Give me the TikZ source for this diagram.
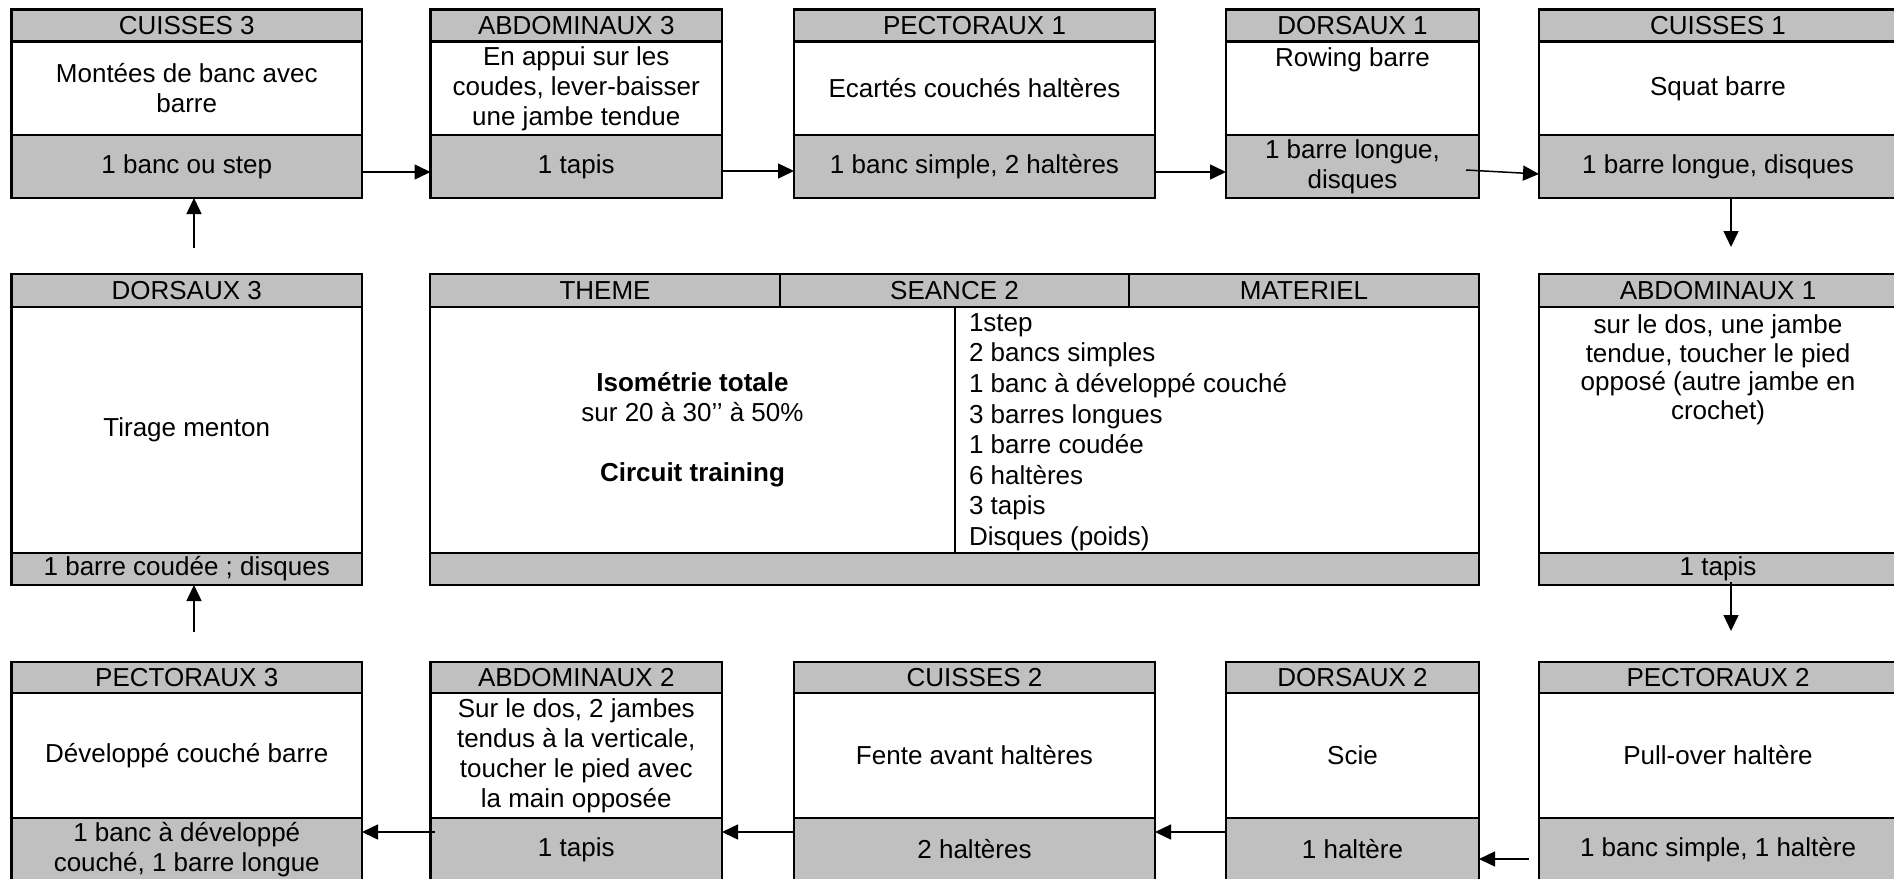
\documentclass[tikz,border=0pt]{standalone}
\usepackage{fontspec}
\setmainfont{Liberation Sans}
\usetikzlibrary{arrows.meta}
\definecolor{cellgray}{RGB}{192,192,192}
\tikzset{
  cell/.style={draw=black, line width=2.5pt, rectangle, inner sep=0pt, outer sep=0pt, anchor=north west, align=center},
  hdr/.style={cell, fill=cellgray},
  bdy/.style={cell, fill=white},
  ftr/.style={cell, fill=cellgray},
  txt/.style={inner sep=0pt, outer sep=0pt, align=center},
  arr/.style={line width=1.5pt, -{Triangle[length=16pt,width=15pt]}}
}
% #1 name, #2 x, #3 width, #4 header, #5 body, #6 footer ; row values in \yA \hA \hB \hC
\newcommand\mkstation[6]{%
  \node[hdr, minimum width=#3pt, minimum height=\hA pt] (#1h) at ({#2},{\yA}) {#4};
  \node[bdy, minimum width=#3pt, minimum height=\hB pt] (#1b) at ({#2},{\yA+\hA}) {#5};
  \node[ftr, minimum width=#3pt, minimum height=\hC pt] (#1f) at ({#2},{\yA+\hA+\hB}) {#6};
}
\begin{document}
\begin{tikzpicture}[x=1pt, y=-1pt, font=\fontsize{26}{30}\selectfont]
\useasboundingbox (0,0) rectangle (1894,878);
\clip (0,0) rectangle (1894,878);
\fill[white] (0,0) rectangle (1894,878);

% ---------- top row ----------
\def\yA{9.5}\def\hA{32.2}\def\hB{93.3}\def\hC{63}
\mkstation{cuA}{11.5}{350.5}{CUISSES 3}{Montées de banc avec\\barre}{1 banc ou step}
\mkstation{abA}{430.5}{291.5}{ABDOMINAUX 3}{En appui sur les\\coudes, lever-baisser\\une jambe tendue}{1 tapis}
\mkstation{peA}{794}{361}{PECTORAUX 1}{Ecartés couchés haltères}{1 banc simple, 2 haltères}
\mkstation{doA}{1226}{253}{DORSAUX 1}{}{1 barre longue,\\disques}
\mkstation{cuB}{1539}{358}{CUISSES 1}{Squat barre}{1 barre longue, disques}
\node[txt, anchor=north] (doAt) at (1352.5,48) {Rowing barre};

% ---------- middle row ----------
\def\yA{274}\def\hA{33}\def\hB{246}\def\hC{32}
\mkstation{doC}{11.5}{350.5}{DORSAUX 3}{Tirage menton}{1 barre coudée ; disques}
\mkstation{abB}{1539}{358}{ABDOMINAUX 1}{}{1 tapis}
\node[txt, anchor=north, font=\fontsize{26}{28.4}\selectfont] (abBt) at (1718,315)
  {sur le dos, une jambe\\tendue, toucher le pied\\opposé (autre jambe en\\crochet)};

% central table
\node[hdr, minimum width=350pt, minimum height=33pt] (th1) at (430,274) {THEME};
\node[hdr, minimum width=349pt, minimum height=33pt] (th2) at (780,274) {SEANCE 2};
\node[hdr, minimum width=350pt, minimum height=33pt] (th3) at (1129,274) {MATERIEL};
\node[bdy, minimum width=525pt, minimum height=246pt] (tb1) at (430,307)
  {\textbf{Isométrie totale}\\sur 20 à 30’’ à 50\%\\[30pt]\textbf{Circuit training}};
\node[bdy, minimum width=524pt, minimum height=246pt] (tb2) at (955,307) {};
\node[ftr, minimum width=1049pt, minimum height=32pt] (tf) at (430,553) {};
\node[txt, anchor=north west, align=left, font=\fontsize{26}{30.6}\selectfont] (mat) at (969,313.5)
  {1step\\2 bancs simples\\1 banc à développé couché\\3 barres longues\\1 barre coudée\\6 haltères\\3 tapis\\Disques (poids)};

% ---------- bottom row ----------
\def\yA{662}\def\hA{31}\def\hB{125}\def\hC{63}
\mkstation{peC}{11.5}{350.5}{PECTORAUX 3}{Développé couché barre}{1 banc à développé\\couché, 1 barre longue}
\mkstation{abC}{430.5}{291.5}{ABDOMINAUX 2}{Sur le dos, 2 jambes\\tendus à la verticale,\\toucher le pied avec\\la main opposée}{1 tapis}
\mkstation{cuC}{794}{361}{CUISSES 2}{Fente avant haltères}{2 haltères}
\mkstation{doB}{1226}{253}{DORSAUX 2}{Scie}{1 haltère}
\mkstation{peB}{1539}{358}{PECTORAUX 2}{Pull-over haltère}{1 banc simple, 1 haltère}

% ---------- connectors ----------
\draw[arr] ([yshift=-5.5pt]cuAf.east) -- ([yshift=-5.5pt]abAf.west);
\draw[arr] ([yshift=-4.5pt]abAf.east) -- ([yshift=-4.5pt]peAf.west);
\draw[arr] ([yshift=-5.5pt]peAf.east) -- ([yshift=-5.5pt]doAf.west);
\coordinate (s4) at (1466,170);
\draw[arr] (s4) -- ([yshift=-7.5pt]cuBf.west);
\coordinate (e5) at (1731,247);
\draw[arr] (e5 |- cuBf.south) -- (e5);
\coordinate (e6) at (1731,631);
\draw[arr, shorten <=-3pt] (e6 |- abBf.south) -- (e6);
\coordinate (s7) at (1529,859);
\draw[arr] (s7) -- (s7 -| doBf.east);
\draw[arr] ([yshift=17.5pt]doBf.west) -- ([yshift=17.5pt]cuCf.east);
\draw[arr] ([yshift=17.5pt]cuCf.west) -- ([yshift=17.5pt]abCf.east);
\draw[arr, shorten <=-4pt] ([yshift=17.5pt]abCf.west) -- ([yshift=17.5pt]peCf.east);
\coordinate (s11) at (194,632);
\draw[arr] (s11) -- (s11 |- doCf.south);
\coordinate (s12) at (194,248);
\draw[arr] (s12) -- (s12 |- cuAf.south);
\end{tikzpicture}
\end{document}
